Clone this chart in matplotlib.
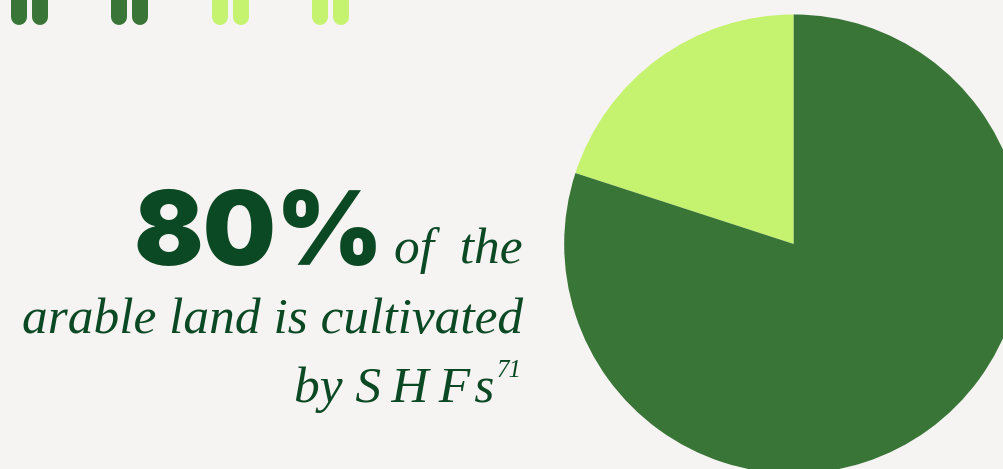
import matplotlib.pyplot as plt

# share of arable land, cultivated by smallholder farmers vs the rest
labels = ["Other", "SHFs"]
shares = [20, 80]
colors = ["#c5f26f", "#387537"]

headline = "80%"
line1 = "of  the"
line2 = "arable land is cultivated"
line3 = "by S\u2009H\u2009F\u200as"
note = "71"

bg = "#f6f4f2"
ink = "#0b4824"

W, H = 1004, 469
fig = plt.figure(figsize=(W / 100, H / 100), dpi=100)
fig.patch.set_facecolor(bg)
ax = fig.add_axes([0, 0, 1, 1])

# pie, light slice from 12 o'clock going anticlockwise
ax.pie(shares, colors=colors, startangle=90, counterclock=True,
       center=(793.7, H - 244), radius=229.5, frame=True,
       wedgeprops=dict(linewidth=0))
ax.set_xlim(0, W)
ax.set_ylim(0, H)
ax.set_aspect("equal")
ax.axis("off")

# decorative rounded ticks along the top edge
tick_colors = ["#387537", "#387537", "#c5f26f", "#c5f26f"]
for i, c in enumerate(tick_colors):
    x0 = 19 + i * 100.5
    for dx in (0, 21):
        ax.plot([x0 + dx, x0 + dx], [H + 20, H - 17], color=c,
                lw=11.5, solid_capstyle="round")

ax.text(384, H - 265, headline, fontsize=74, fontweight="black",
        family="Inter", color=ink, ha="right", va="baseline")
ax.text(523, H - 263, line1, fontsize=37, style="italic",
        family="Liberation Serif", color=ink, ha="right", va="baseline")
ax.text(523, H - 333, line2, fontsize=37, style="italic",
        family="Liberation Serif", color=ink, ha="right", va="baseline")
ax.text(494, H - 402, line3, fontsize=37, style="italic",
        family="Liberation Serif", color=ink, ha="right", va="baseline")
ax.text(497, H - 377, note, fontsize=18, style="italic",
        family="Liberation Serif", color=ink, ha="left", va="baseline")

fig.savefig("out.png", dpi=100, facecolor=bg)
